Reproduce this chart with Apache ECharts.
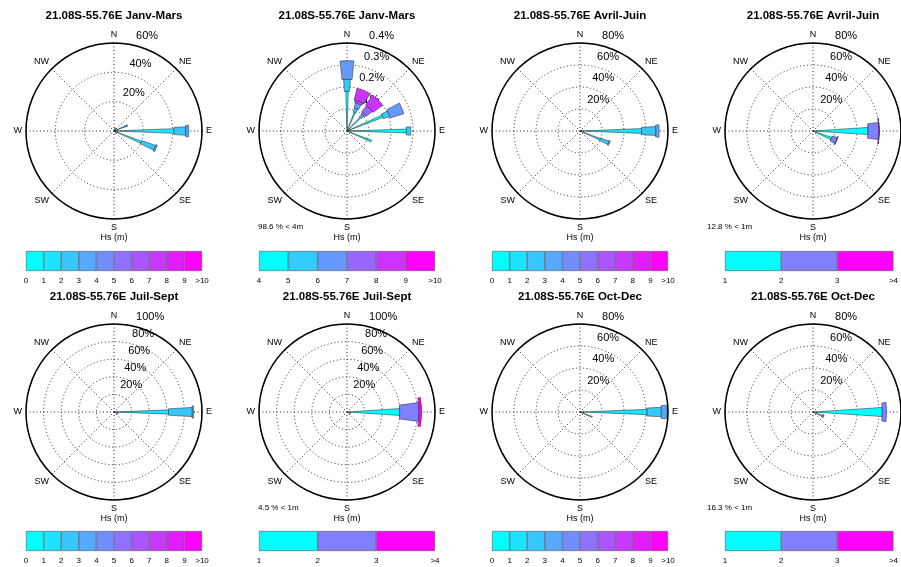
<!DOCTYPE html>
<html>
<head>
<meta charset="utf-8">
<script src="https://cdn.jsdelivr.net/npm/echarts@6/dist/echarts.min.js"></script>
<style>
html, body { margin: 0; padding: 0; background: #fff; }
#chart { width: 901px; height: 567px; }
</style>
</head>
<body>
<div id="chart"></div>
<script>
// 16 direction bins, degrees clockwise from north
const binWidth = 22.5;
const compass = ['N', 'NE', 'E', 'SE', 'S', 'SW', 'W', 'NW'];

const titles = [
  '21.08S-55.76E Janv-Mars', '21.08S-55.76E Janv-Mars',
  '21.08S-55.76E Avril-Juin', '21.08S-55.76E Avril-Juin',
  '21.08S-55.76E Juil-Sept', '21.08S-55.76E Juil-Sept',
  '21.08S-55.76E Oct-Dec', '21.08S-55.76E Oct-Dec'
];
const ringMax = [60, 0.4, 80, 80, 100, 100, 80, 80];
const ringStep = [20, 0.1, 20, 20, 20, 20, 20, 20];
const notes = ['', '98.6 % < 4m', '', '12.8 % < 1m', '', '4.5 % < 1m', '', '16.3 % < 1m'];

// colorbar tick labels
const hsLabelsAll = ['0', '1', '2', '3', '4', '5', '6', '7', '8', '9', '>10'];
const hsLabelsHigh = ['4', '5', '6', '7', '8', '9', '>10'];
const hsLabelsOver1 = ['1', '2', '3', '>4'];

// frequency (%) : [direction, class1, class2, ...] stacked from the centre
const janvMarsAll = [
  [22.5, 0.5, 1.5, 0.5],
  [45, 0.5, 2],
  [67.5, 2, 6, 2],
  [90, 5, 36, 8, 2],
  [112.5, 3, 17, 10, 1],
  [135, 0.5, 1.5]
];
const janvMarsHigh = [
  [0, 0.18, 0.055, 0.085],
  [22.5, 0.09, 0.02, 0.025, 0.01, 0.055],
  [45, 0.085, 0.015, 0.01, 0.035, 0.055],
  [67.5, 0.175, 0.03, 0.065],
  [90, 0.27, 0.02],
  [112.5, 0.12]
];
const avrilJuinAll = [
  [67.5, 0.5, 1.5],
  [90, 7, 49, 13, 3],
  [112.5, 4, 16, 8, 1]
];
const avrilJuinOver1 = [
  [90, 50, 10, 0.6],
  [112.5, 18, 5, 0.3]
];
const juilSeptAll = [
  [67.5, 0.5, 1],
  [90, 4, 58, 27, 1.5],
  [112.5, 1, 3, 1]
];
const juilSeptOver1 = [
  [90, 60, 22, 3],
  [112.5, 3, 1]
];
const octDecAll = [
  [90, 12, 49, 13, 5],
  [112.5, 4, 8]
];
const octDecOver1 = [
  [90, 63, 4],
  [112.5, 9, 1.5]
];

// colour scales (matlab "cool")
const cool10 = ['#00ffff', '#1ce3ff', '#39c6ff', '#55aaff', '#718eff', '#8e71ff', '#aa55ff', '#c639ff', '#e31cff', '#ff00ff'];
const cool6 = ['#00ffff', '#33ccff', '#6699ff', '#9966ff', '#cc33ff', '#ff00ff'];
const cool3 = ['#00ffff', '#8080ff', '#ff00ff'];

const panels = [
  { rows: janvMarsAll, colors: cool10, labels: hsLabelsAll },
  { rows: janvMarsHigh, colors: cool6, labels: hsLabelsHigh },
  { rows: avrilJuinAll, colors: cool10, labels: hsLabelsAll },
  { rows: avrilJuinOver1, colors: cool3, labels: hsLabelsOver1 },
  { rows: juilSeptAll, colors: cool10, labels: hsLabelsAll },
  { rows: juilSeptOver1, colors: cool3, labels: hsLabelsOver1 },
  { rows: octDecAll, colors: cool10, labels: hsLabelsAll },
  { rows: octDecOver1, colors: cool3, labels: hsLabelsOver1 }
];

// layout
const colX = [114, 347, 580, 813];
const rowY = [131, 412];
const R = 88;
const noteX = [0, 258, 0, 707, 0, 258, 0, 707];
const font = 'Liberation Sans, Arial, sans-serif';
const dotted = { color: '#111', type: [1, 2.5], width: 0.9 };

const chart = echarts.init(document.getElementById('chart'));

const polar = [], angleAxis = [], radiusAxis = [], series = [];
const grid = [], xAxis = [], yAxis = [], title = [];

// sector of one Hs class: wider for higher classes (as in the matlab wind_rose)
function makeRenderItem(colors) {
  const n = colors.length;
  return function (params, api) {
    const dir = api.value(0), k = api.value(1), lo = api.value(2), hi = api.value(3);
    const half = binWidth * (k + 1) / n / 2;
    const cs = params.coordSys;
    const a = api.coord([hi, dir - half]);
    const b = api.coord([hi, dir + half]);
    const c = api.coord([lo, dir]);
    let a1 = Math.atan2(a[1] - cs.cy, a[0] - cs.cx);
    let a2 = Math.atan2(b[1] - cs.cy, b[0] - cs.cx);
    if (a2 < a1) a2 += Math.PI * 2;
    return {
      type: 'sector',
      shape: {
        cx: cs.cx, cy: cs.cy,
        r0: Math.hypot(c[0] - cs.cx, c[1] - cs.cy),
        r: Math.hypot(a[0] - cs.cx, a[1] - cs.cy),
        startAngle: a1, endAngle: a2, clockwise: true
      },
      style: { fill: colors[k], stroke: '#222', lineWidth: 0.5 }
    };
  };
}

panels.forEach(function (p, i) {
  const cx = colX[i % 4], cy = rowY[Math.floor(i / 4)];
  const max = ringMax[i], step = ringStep[i];
  const g = i * 2;

  // frame: outer circle, compass spokes, rings
  polar.push({ center: [cx, cy], radius: [0, R] });
  angleAxis.push({
    polarIndex: g, type: 'value', min: 0, max: 360, interval: 45, startAngle: 90, clockwise: true,
    axisLine: { lineStyle: { color: '#000', width: 1.5 } },
    axisTick: { show: false },
    axisLabel: {
      margin: 4, fontSize: 9, color: '#000', fontFamily: font,
      formatter: function (v) { return v >= 360 ? '' : compass[Math.round(v / 45)]; }
    },
    splitLine: { lineStyle: dotted }
  });
  radiusAxis.push({
    polarIndex: g, type: 'value', min: 0, max: max, interval: step,
    axisLine: { show: false }, axisTick: { show: false }, axisLabel: { show: false },
    splitLine: { lineStyle: dotted }
  });

  // ring labels
  polar.push({ center: [cx, cy], radius: [10, R + 10] });
  angleAxis.push({ polarIndex: g + 1, type: 'value', min: 0, max: 360, startAngle: 77, show: false });
  radiusAxis.push({
    polarIndex: g + 1, type: 'value', min: 0, max: max, interval: step,
    axisLine: { show: false }, axisTick: { show: false }, splitLine: { show: false },
    axisLabel: {
      margin: 0, align: 'left', verticalAlign: 'middle', fontSize: 11, color: '#000', fontFamily: font,
      formatter: function (v) { return v <= 0 ? '' : parseFloat(v.toFixed(2)) + '%'; }
    }
  });

  // rose sectors: [direction, class, from, to]
  const rose = [];
  p.rows.forEach(function (row) {
    let cum = 0;
    for (let k = 1; k < row.length; k++) {
      if (row[k] > 0) rose.push([row[0], k - 1, cum, cum + row[k]]);
      cum += row[k];
    }
  });
  series.push({
    type: 'custom', coordinateSystem: 'polar', polarIndex: g, silent: true,
    data: rose, renderItem: makeRenderItem(p.colors)
  });

  // colorbar
  const nClass = p.colors.length;
  const barTop = i < 4 ? 251 : 531;
  grid.push({ left: cx - R, top: barTop, width: 2 * R, height: 20 });
  xAxis.push({
    gridIndex: i, type: 'value', min: 0, max: nClass, interval: 1,
    axisLine: { show: false }, axisTick: { show: false }, splitLine: { show: false },
    axisLabel: {
      margin: 6, fontSize: 8, color: '#000', fontFamily: font,
      formatter: function (v) { return p.labels[Math.round(v)]; }
    }
  });
  yAxis.push({ gridIndex: i, type: 'category', data: ['Hs'], show: false });
  for (let k = 0; k < nClass; k++) {
    series.push({
      type: 'bar', xAxisIndex: i, yAxisIndex: i, stack: 'cb' + i, barWidth: '100%',
      data: [1], silent: true,
      itemStyle: { color: p.colors[k], borderColor: '#555', borderWidth: 0.6 }
    });
  }

  // texts
  title.push({
    text: titles[i], left: cx, top: cy - 121, textAlign: 'center', padding: 0,
    textStyle: { fontSize: 11.5, fontWeight: 'bold', color: '#000', fontFamily: font }
  });
  title.push({
    text: 'Hs (m)', left: cx, top: cy + 102, textAlign: 'center', padding: 0,
    textStyle: { fontSize: 9, fontWeight: 'normal', color: '#000', fontFamily: font }
  });
  if (notes[i]) {
    title.push({
      text: notes[i], left: noteX[i], top: cy + 92, padding: 0,
      textStyle: { fontSize: 8, fontWeight: 'normal', color: '#000', fontFamily: font }
    });
  }
});

chart.setOption({
  backgroundColor: '#fff',
  animation: false,
  title: title,
  polar: polar,
  angleAxis: angleAxis,
  radiusAxis: radiusAxis,
  grid: grid,
  xAxis: xAxis,
  yAxis: yAxis,
  series: series
});
</script>
</body>
</html>
